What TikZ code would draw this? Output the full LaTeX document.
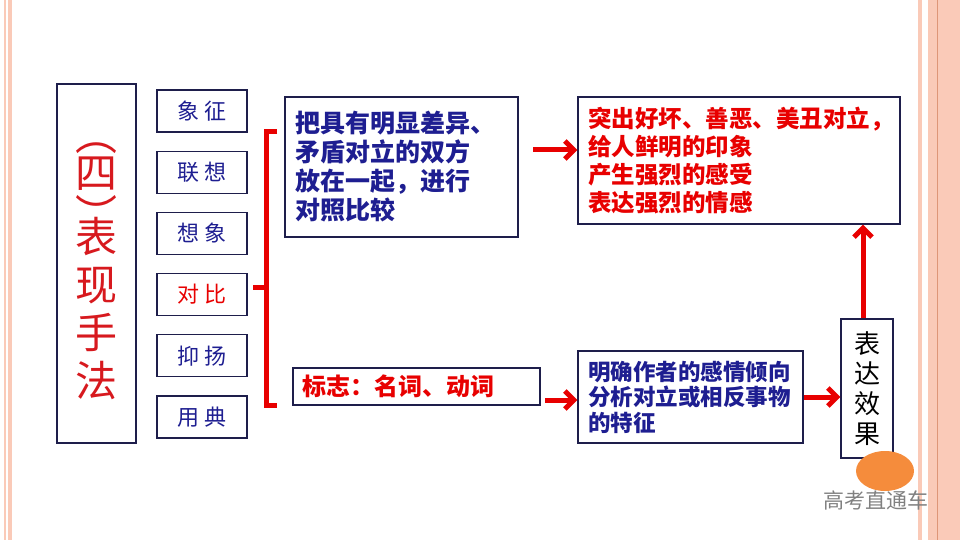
\documentclass[tikz,border=0pt]{standalone}
\usepackage{fontspec}
\setmainfont{Noto Sans CJK SC}
\usetikzlibrary{positioning, arrows.meta}
\definecolor{navy}{RGB}{30,30,145}
\definecolor{boxline}{RGB}{30,30,75}
\definecolor{brightred}{RGB}{232,0,0}
\definecolor{titlered}{RGB}{215,25,30}
\definecolor{band}{RGB}{250,202,184}
\definecolor{bandline}{RGB}{222,150,120}
\definecolor{logo}{RGB}{245,140,60}
\tikzstyle{bigbox} = [rectangle, draw=boxline, line width=1.2pt, fill=white, minimum width=79pt, minimum height=359pt, inner sep=0pt]
\tikzstyle{smallbox} = [rectangle, draw=boxline, line width=1.2pt, fill=white, minimum width=90pt, minimum height=42pt, inner sep=0pt, text=navy, font=\fontsize{22}{24}\selectfont]
\tikzstyle{textbox} = [rectangle, draw=boxline, line width=1.2pt, fill=white, align=left, inner xsep=10pt, inner ysep=0pt]
\tikzstyle{arrow} = [line width=5pt, brightred, -{Straight Barb[length=9pt,width=18pt]}]
\tikzstyle{bracket} = [line width=5pt, brightred]

\begin{document}
\begin{tikzpicture}[x=1pt, y=-1pt, node distance=18pt]
			\useasboundingbox (0,0) rectangle (960,540);
			% page frame
			\fill[band] (4,0) rectangle (5.5,540);
			\fill[band] (8,0) rectangle (12,540);
			\fill[band] (918,0) rectangle (922,540);
			\fill[band] (928,0) rectangle (960,540);
			\draw[bandline, line width=0.8pt] (937,0) -- (937,540);
			
			\node[bigbox] (title) at (96.5,263.5) {};
			\node[align=center, inner sep=0pt, text=titlered, font=\fontsize{42}{48}\selectfont] (titletext) at ([yshift=-8pt]title.center) {︵\\[-10pt]四\\[-6pt]︶\\[-26pt]表\\现\\手\\法};
			
			\node[smallbox] (xz) at (202,111) {象\hspace{5pt}征};
			\node[smallbox, below=of xz] (lx) {联\hspace{5pt}想};
			\node[smallbox, below=of lx] (xx) {想\hspace{5pt}象};
			\node[smallbox, below=of xx, text=brightred] (db) {对\hspace{5pt}比};
			\node[smallbox, below=of db] (yy) {抑\hspace{5pt}扬};
			\node[smallbox, below=of yy] (yd) {用\hspace{5pt}典};
			
			\draw[bracket] (277,132) -- (266,132) -- (266,405) -- (277,405);
			\draw[bracket] (266,287) -- (253,287);
			
			\node[textbox, text=navy, text width=213pt, minimum height=140pt, font=\fontsize{25}{29}\selectfont\bfseries] (def) at (401.5,167) {把具有明显差异、\\矛盾对立的双方\\放在一起，进行\\对照比较};
			\node[textbox, text=brightred, text width=229pt, inner xsep=9pt, minimum height=37pt, font=\fontsize{24}{26}\selectfont\bfseries] (sign) at (416.5,386.5) {标志：名词、动词};
			\node[textbox, text=brightred, text width=302pt, minimum height=127pt, font=\fontsize{23.5}{28}\selectfont\bfseries] (eff) at (739,160.5) {突出好坏、善恶、美丑对立，\\给人鲜明的印象\\产生强烈的感受\\表达强烈的情感};
			\node[textbox, text=navy, text width=205pt, minimum height=92pt, font=\fontsize{22.5}{25.5}\selectfont\bfseries] (ana) at (690.5,397) {明确作者的感情倾向\\分析对立或相反事物\\的特征};
			\node[textbox, align=center, inner sep=0pt, minimum width=52pt, minimum height=139pt, font=\fontsize{26}{30}\selectfont] (bd) at (867,388.5) {表\\达\\效\\果};
			
			\coordinate (a1) at (533,150);
			\coordinate (a2) at (545,400);
			\draw [arrow] (a1) -- (a1 -| eff.west);
			\draw [arrow] (a2) -- (a2 -| ana.west);
			\draw [arrow] (ana.east) -- (ana.east -| bd.west);
			\draw [arrow] (bd.north -| 863,0) -- (eff.south -| 863,0);
			
			\fill[logo] (885,471) ellipse (29 and 20);
			\node[text=gray, font=\fontsize{21}{23}\selectfont] (mark) at (876,500) {高考直通车};
		\end{tikzpicture}
\end{document}
